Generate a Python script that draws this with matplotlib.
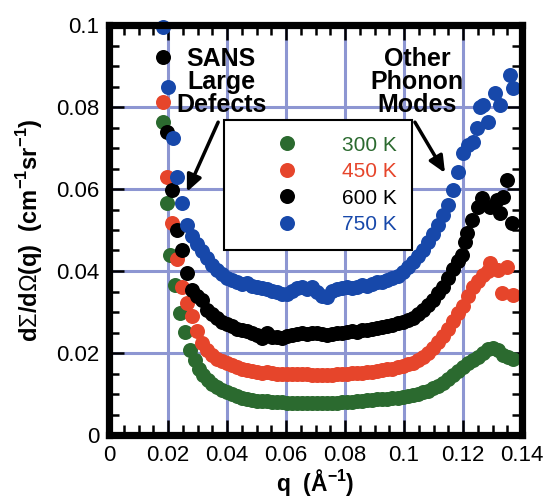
import matplotlib
matplotlib.use("Agg")
import matplotlib.pyplot as plt
from matplotlib.ticker import MultipleLocator

plt.rcParams['font.family'] = ['Liberation Sans', 'DejaVu Sans']
plt.rcParams['mathtext.fontset'] = 'custom'
plt.rcParams['mathtext.bf'] = 'Liberation Sans:bold'
plt.rcParams['mathtext.rm'] = 'Liberation Sans'

# ---------------- data ----------------
labels = ["300 K", "450 K", "600 K", "750 K"]
colors = ["#2b6a2f", "#e6452b", "#000000", "#1748aa"]

q_300 = [0.0183, 0.0197, 0.0207, 0.0224, 0.0241, 0.0258, 0.0275, 0.0290, 0.0305, 0.0320,
         0.0335, 0.0350, 0.0366, 0.0383, 0.0400, 0.0417, 0.0434, 0.0451, 0.0468, 0.0485,
         0.0502, 0.0519, 0.0536, 0.0553, 0.0570, 0.0587, 0.0604, 0.0621, 0.0638, 0.0655,
         0.0672, 0.0689, 0.0706, 0.0723, 0.0740, 0.0757, 0.0774, 0.0791, 0.0808, 0.0825,
         0.0842, 0.0859, 0.0876, 0.0893, 0.0910, 0.0927, 0.0944, 0.0961, 0.0978, 0.0995,
         0.1012, 0.1029, 0.1046, 0.1063, 0.1080, 0.1097, 0.1114, 0.1131, 0.1148, 0.1165,
         0.1182, 0.1199, 0.1216, 0.1233, 0.1250, 0.1267, 0.1284, 0.1301, 0.1318, 0.1335,
         0.1352, 0.1369]
y_300 = [0.0763, 0.0566, 0.0439, 0.0366, 0.0298, 0.0251, 0.0207, 0.0182, 0.0162, 0.0147,
         0.0134, 0.0124, 0.0116, 0.0109, 0.0104, 0.0099, 0.0094, 0.0091, 0.0088, 0.0086,
         0.0084, 0.0083, 0.0082, 0.0081, 0.0080, 0.0080, 0.0079, 0.0079, 0.0078, 0.0078,
         0.0078, 0.0077, 0.0077, 0.0077, 0.0078, 0.0078, 0.0079, 0.0080, 0.0081, 0.0081,
         0.0082, 0.0083, 0.0085, 0.0086, 0.0087, 0.0088, 0.0089, 0.0090, 0.0091, 0.0093,
         0.0095, 0.0097, 0.0100, 0.0104, 0.0108, 0.0114, 0.0120, 0.0128, 0.0137, 0.0147,
         0.0157, 0.0166, 0.0175, 0.0183, 0.0190, 0.0200, 0.0210, 0.0212, 0.0208, 0.0196,
         0.0190, 0.0185]

q_450 = [0.0183, 0.0197, 0.0213, 0.0230, 0.0247, 0.0264, 0.0281, 0.0298, 0.0315, 0.0332,
         0.0349, 0.0366, 0.0383, 0.0400, 0.0417, 0.0434, 0.0451, 0.0468, 0.0485, 0.0502,
         0.0519, 0.0536, 0.0553, 0.0570, 0.0587, 0.0604, 0.0621, 0.0638, 0.0655, 0.0672,
         0.0689, 0.0706, 0.0723, 0.0740, 0.0757, 0.0774, 0.0791, 0.0808, 0.0825, 0.0842,
         0.0859, 0.0876, 0.0893, 0.0910, 0.0927, 0.0944, 0.0961, 0.0978, 0.0995, 0.1012,
         0.1029, 0.1046, 0.1063, 0.1080, 0.1097, 0.1114, 0.1131, 0.1148, 0.1165, 0.1182,
         0.1199, 0.1216, 0.1233, 0.1250, 0.1268, 0.1285, 0.1292, 0.1319, 0.1349, 0.1332,
         0.1370]
y_450 = [0.0812, 0.0629, 0.0517, 0.0430, 0.0360, 0.0322, 0.0290, 0.0253, 0.0225, 0.0207,
         0.0194, 0.0186, 0.0180, 0.0176, 0.0170, 0.0166, 0.0162, 0.0158, 0.0156, 0.0154,
         0.0152, 0.0153, 0.0151, 0.0150, 0.0149, 0.0150, 0.0148, 0.0149, 0.0150, 0.0148,
         0.0147, 0.0146, 0.0147, 0.0146, 0.0147, 0.0148, 0.0149, 0.0150, 0.0151, 0.0151,
         0.0152, 0.0153, 0.0154, 0.0156, 0.0158, 0.0160, 0.0162, 0.0165, 0.0168, 0.0172,
         0.0176, 0.0182, 0.0190, 0.0200, 0.0212, 0.0226, 0.0242, 0.0258, 0.0278, 0.0298,
         0.0315, 0.0340, 0.0362, 0.0376, 0.0390, 0.0400, 0.0420, 0.0402, 0.0410, 0.0346,
         0.0341]

q_600 = [0.0183, 0.0197, 0.0213, 0.0230, 0.0247, 0.0264, 0.0281, 0.0298, 0.0315, 0.0332,
         0.0349, 0.0366, 0.0383, 0.0400, 0.0417, 0.0434, 0.0451, 0.0468, 0.0485, 0.0502,
         0.0519, 0.0536, 0.0553, 0.0570, 0.0587, 0.0604, 0.0621, 0.0638, 0.0655, 0.0672,
         0.0689, 0.0706, 0.0723, 0.0740, 0.0757, 0.0774, 0.0791, 0.0808, 0.0825, 0.0842,
         0.0859, 0.0876, 0.0893, 0.0910, 0.0927, 0.0944, 0.0961, 0.0978, 0.0995, 0.1012,
         0.1029, 0.1046, 0.1063, 0.1080, 0.1097, 0.1114, 0.1131, 0.1148, 0.1165, 0.1182,
         0.1197, 0.1206, 0.1214, 0.1230, 0.1251, 0.1264, 0.1292, 0.1315, 0.1325, 0.1336,
         0.1349, 0.1366]
y_600 = [0.0922, 0.0739, 0.0598, 0.0500, 0.0451, 0.0395, 0.0354, 0.0338, 0.0330, 0.0305,
         0.0295, 0.0285, 0.0276, 0.0270, 0.0265, 0.0259, 0.0256, 0.0253, 0.0250, 0.0243,
         0.0236, 0.0248, 0.0240, 0.0238, 0.0237, 0.0241, 0.0245, 0.0247, 0.0249, 0.0246,
         0.0248, 0.0250, 0.0247, 0.0245, 0.0247, 0.0249, 0.0250, 0.0252, 0.0253, 0.0252,
         0.0255, 0.0257, 0.0259, 0.0262, 0.0264, 0.0266, 0.0268, 0.0272, 0.0276, 0.0280,
         0.0286, 0.0295, 0.0305, 0.0317, 0.0330, 0.0346, 0.0362, 0.0382, 0.0404, 0.0425,
         0.0440, 0.0470, 0.0493, 0.0524, 0.0556, 0.0578, 0.0556, 0.0573, 0.0541, 0.0580,
         0.0622, 0.0517]

q_750 = [0.0183, 0.0200, 0.0217, 0.0230, 0.0247, 0.0264, 0.0281, 0.0298, 0.0315, 0.0332,
         0.0349, 0.0366, 0.0383, 0.0400, 0.0417, 0.0434, 0.0451, 0.0468, 0.0485, 0.0502,
         0.0519, 0.0536, 0.0553, 0.0570, 0.0587, 0.0604, 0.0621, 0.0638, 0.0655, 0.0672,
         0.0689, 0.0706, 0.0723, 0.0740, 0.0757, 0.0774, 0.0791, 0.0808, 0.0825, 0.0842,
         0.0859, 0.0876, 0.0893, 0.0910, 0.0927, 0.0944, 0.0961, 0.0978, 0.0995, 0.1012,
         0.1029, 0.1046, 0.1063, 0.1080, 0.1097, 0.1114, 0.1131, 0.1148, 0.1165, 0.1182,
         0.1199, 0.1216, 0.1233, 0.1247, 0.1258, 0.1267, 0.1285, 0.1308, 0.1325, 0.1359,
         0.1370]
y_750 = [0.0995, 0.0849, 0.0724, 0.0629, 0.0566, 0.0512, 0.0485, 0.0465, 0.0448, 0.0432,
         0.0415, 0.0402, 0.0392, 0.0384, 0.0378, 0.0372, 0.0368, 0.0370, 0.0364, 0.0361,
         0.0358, 0.0356, 0.0352, 0.0348, 0.0345, 0.0344, 0.0352, 0.0358, 0.0362, 0.0356,
         0.0360, 0.0348, 0.0340, 0.0336, 0.0352, 0.0356, 0.0358, 0.0362, 0.0358, 0.0362,
         0.0366, 0.0364, 0.0368, 0.0372, 0.0374, 0.0378, 0.0382, 0.0388, 0.0398, 0.0410,
         0.0422, 0.0436, 0.0452, 0.0470, 0.0490, 0.0512, 0.0536, 0.0562, 0.0598, 0.0641,
         0.0688, 0.0707, 0.0715, 0.0749, 0.0800, 0.0805, 0.0763, 0.0834, 0.0805, 0.0878,
         0.0846]

series_q = [q_300, q_450, q_600, q_750]
series_y = [y_300, y_450, y_600, y_750]

xticks = [0, 0.02, 0.04, 0.06, 0.08, 0.1, 0.12, 0.14]
xticklabels = ["0", "0.02", "0.04", "0.06", "0.08", "0.1", "0.12", "0.14"]
yticks = [0, 0.02, 0.04, 0.06, 0.08, 0.1]
yticklabels = ["0", "0.02", "0.04", "0.06", "0.08", "0.1"]

# ---------------- figure ----------------
fig = plt.figure(figsize=(5.45, 5.0), dpi=100)
ax = fig.add_axes([109 / 545, 65 / 500, 413 / 545, 410 / 500])

for qq, yy, c, lab in zip(series_q, series_y, colors, labels):
    ax.plot(qq, yy, linestyle='none', marker='o', markersize=10.8,
            markerfacecolor=c, markeredgecolor=c, markeredgewidth=0,
            label=lab, zorder=3, clip_on=False)

ax.set_xlim(0, 0.14)
ax.set_ylim(0, 0.1)
ax.set_xticks(xticks)
ax.set_xticklabels(xticklabels)
ax.set_yticks(yticks)
ax.set_yticklabels(yticklabels)
ax.xaxis.set_minor_locator(MultipleLocator(0.005))
ax.yaxis.set_minor_locator(MultipleLocator(0.005))

ax.grid(True, which='major', color='#8d96d2', linewidth=2.2, zorder=0)
ax.set_axisbelow(True)

for s in ax.spines.values():
    s.set_linewidth(5.2)
    s.set_zorder(5)

ax.tick_params(which='both', direction='in', top=True, right=True, width=1.8,
               labelsize=16, pad=7)
ax.tick_params(which='major', length=11)
ax.tick_params(which='minor', length=7)

ax.set_xlabel(r'q  (Å$^{\mathbf{-1}}$)', fontsize=16.5, fontweight='bold', labelpad=1)
ax.set_ylabel(r'd$\Sigma$/d$\Omega$(q)  (cm$^{\mathbf{-1}}$sr$^{\mathbf{-1}}$)', fontsize=17,
              fontweight='bold', labelpad=8)

leg = ax.legend(loc='upper left', bbox_to_anchor=(0.278, 0.768), borderaxespad=0,
                fontsize=15, frameon=True, fancybox=False, edgecolor='black',
                framealpha=1, handlelength=4.6, handletextpad=0.3, borderpad=0.75,
                labelspacing=0.36, labelcolor=colors, numpoints=1)
leg.get_frame().set_linewidth(1.5)
leg.set_zorder(6)

ax.annotate('', xy=(0.0264, 0.0593), xytext=(0.0370, 0.0763),
            arrowprops=dict(arrowstyle='-|>,head_length=1.0,head_width=0.45',
                            color='black', lw=2.5, shrinkA=0, shrinkB=0), zorder=7)
ax.annotate('', xy=(0.1139, 0.0639), xytext=(0.1037, 0.0763),
            arrowprops=dict(arrowstyle='-|>,head_length=1.0,head_width=0.45',
                            color='black', lw=2.5, shrinkA=0, shrinkB=0), zorder=7)

ax.text(0.0380, 0.0862, 'SANS\nLarge\nDefects', ha='center', va='center',
        fontsize=18, fontweight='bold', linespacing=0.95, zorder=7)
ax.text(0.1044, 0.0862, 'Other\nPhonon\nModes', ha='center', va='center',
        fontsize=18, fontweight='bold', linespacing=0.95, zorder=7)

fig.savefig('out.png', dpi=100)
